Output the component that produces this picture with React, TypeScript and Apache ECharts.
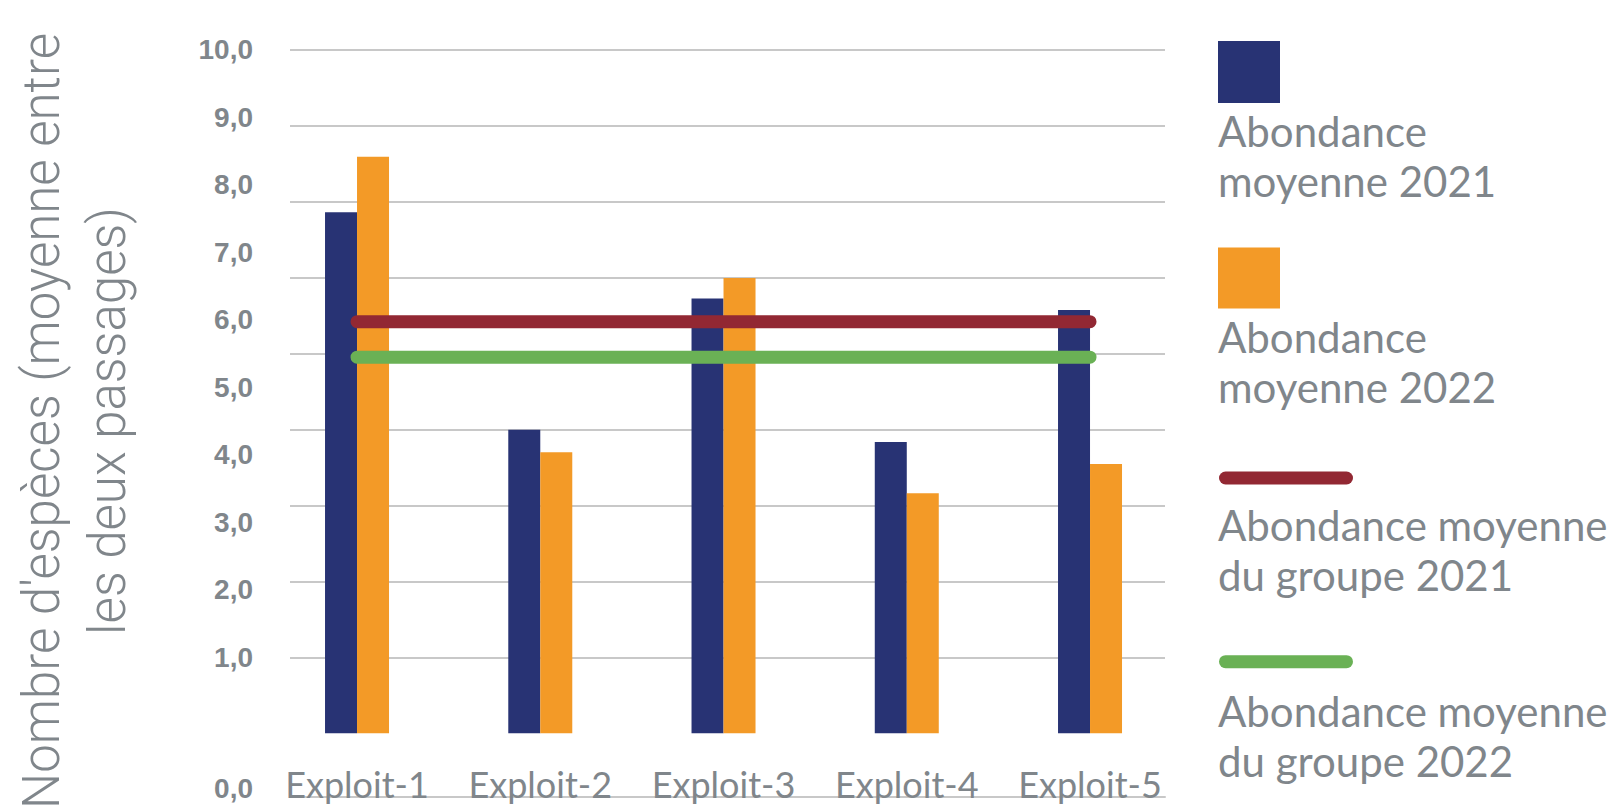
import React, { useEffect, useRef } from 'react';
import * as echarts from 'echarts';

const categories = ['Exploit-1', 'Exploit-2', 'Exploit-3', 'Exploit-4', 'Exploit-5'];
const abondance2021 = [7.62, 4.44, 6.36, 4.26, 6.19];
const abondance2022 = [8.43, 4.11, 6.66, 3.51, 3.94];
const moyenneGroupe2021 = 6.02;
const moyenneGroupe2022 = 5.5;
const seriesNames = [
  'Abondance\nmoyenne 2021',
  'Abondance\nmoyenne 2022',
  'Abondance moyenne\ndu groupe 2021',
  'Abondance moyenne\ndu groupe 2022',
];
const yTitle = "Nombre d'espèces (moyenne entre\nles deux passages)";

const C_DARK = '#283374';
const C_ORANGE = '#f39a27';
const C_RED = '#922833';
const C_GREEN = '#6ab155';
const C_TEXT = '#80868b';
const C_GRID = '#c8c8c8';

export default function App() {
  const ref = useRef<HTMLDivElement>(null);
  useEffect(() => {
    const chart = echarts.init(ref.current!, null, { renderer: 'svg' });
    const fmt = (v: number) => {
      if (v === -1) return '{z|0,0}';
      if (v === 0) return '';
      return v.toFixed(1).replace('.', ',');
    };
    const legendText = (text: string, y: number) => ({
      type: 'text',
      x: 1218,
      y,
      style: { text, fill: C_TEXT, fontSize: 42, fontFamily: 'Lato', lineHeight: 50, verticalAlign: 'top', align: 'left' },
    });
    chart.setOption({
      animation: false,
      grid: [
        { left: 265.4, top: 49.5, width: 916.25, height: 683.8 },
        { left: 290, top: 49.5, width: 875, height: 683.8 },
        { left: 265, top: 49.5, width: 10, height: 752.2 },
      ],
      xAxis: [
        {
          gridIndex: 0,
          type: 'category',
          data: categories,
          axisLine: { show: false },
          axisTick: { show: false },
          splitLine: { show: false },
          axisLabel: {
            interval: 0,
            hideOverlap: false,
            margin: 33,
            fontSize: 36,
            lineHeight: 36,
            color: C_TEXT,
            fontFamily: 'Lato',
          },
        },
        {
          gridIndex: 1,
          type: 'value',
          min: 0,
          max: 1,
          offset: 63.5,
          axisLine: { show: true, onZero: false, lineStyle: { color: C_GRID, width: 2 } },
          axisTick: { show: false },
          axisLabel: { show: false },
          splitLine: { show: false },
        },
        { gridIndex: 2, type: 'value', show: false, min: 0, max: 1 },
      ],
      yAxis: [
        { gridIndex: 0, type: 'value', min: 0, max: 10, show: false },
        {
          gridIndex: 1,
          type: 'value',
          min: 0,
          max: 9,
          interval: 1,
          axisLine: { show: false },
          axisTick: { show: false },
          axisLabel: { show: false },
          splitLine: { show: true, showMinLine: false, lineStyle: { color: C_GRID, width: 2 } },
        },
        {
          gridIndex: 2,
          type: 'value',
          min: -1,
          max: 10,
          interval: 1,
          axisLine: { show: false },
          axisTick: { show: false },
          splitLine: { show: false },
          axisLabel: {
            margin: 12,
            formatter: fmt,
            fontSize: 28,
            fontWeight: 'bold',
            fontFamily: 'Liberation Sans',
            color: C_TEXT,
            rich: {
              z: { fontSize: 28, fontWeight: 'bold', fontFamily: 'Liberation Sans', color: C_TEXT, padding: [0, 0, 8, 0] },
            },
          },
          name: yTitle,
          nameLocation: 'middle',
          nameRotate: 90,
          nameGap: 125,
          nameTextStyle: { fontSize: 51, fontFamily: 'Roboto', fontWeight: 300, color: C_TEXT, lineHeight: 66 },
        },
      ],
      series: [
        {
          name: seriesNames[0],
          type: 'bar',
          xAxisIndex: 0,
          yAxisIndex: 0,
          data: abondance2021,
          barWidth: 32,
          barGap: '0%',
          itemStyle: { color: C_DARK },
        },
        {
          name: seriesNames[1],
          type: 'bar',
          xAxisIndex: 0,
          yAxisIndex: 0,
          data: abondance2022,
          barWidth: 32,
          barGap: '0%',
          itemStyle: { color: C_ORANGE },
        },
        {
          name: seriesNames[2],
          type: 'line',
          xAxisIndex: 0,
          yAxisIndex: 0,
          data: categories.map(() => moyenneGroupe2021),
          symbol: 'none',
          lineStyle: { color: C_RED, width: 13, cap: 'round' },
          itemStyle: { color: C_RED },
          z: 5,
        },
        {
          name: seriesNames[3],
          type: 'line',
          xAxisIndex: 0,
          yAxisIndex: 0,
          data: categories.map(() => moyenneGroupe2022),
          symbol: 'none',
          lineStyle: { color: C_GREEN, width: 13, cap: 'round' },
          itemStyle: { color: C_GREEN },
          z: 5,
        },
      ],
      graphic: [
        { type: 'rect', shape: { x: 1218, y: 41, width: 62, height: 62 }, style: { fill: C_DARK } },
        legendText(seriesNames[0], 105.5),
        { type: 'rect', shape: { x: 1218, y: 247.5, width: 62, height: 61 }, style: { fill: C_ORANGE } },
        legendText(seriesNames[1], 312),
        {
          type: 'line',
          shape: { x1: 1225.5, y1: 478, x2: 1346.5, y2: 478 },
          style: { stroke: C_RED, lineWidth: 13, lineCap: 'round' },
        },
        legendText(seriesNames[2], 499.5),
        {
          type: 'line',
          shape: { x1: 1225.5, y1: 661.7, x2: 1346.5, y2: 661.7 },
          style: { stroke: C_GREEN, lineWidth: 13, lineCap: 'round' },
        },
        legendText(seriesNames[3], 685.5),
      ],
    });
    return () => chart.dispose();
  }, []);
  return (
    <div
      ref={ref}
      style={{ position: 'fixed', left: 0, top: 0, width: '1622px', height: '811px', background: '#ffffff' }}
    />
  );
}
